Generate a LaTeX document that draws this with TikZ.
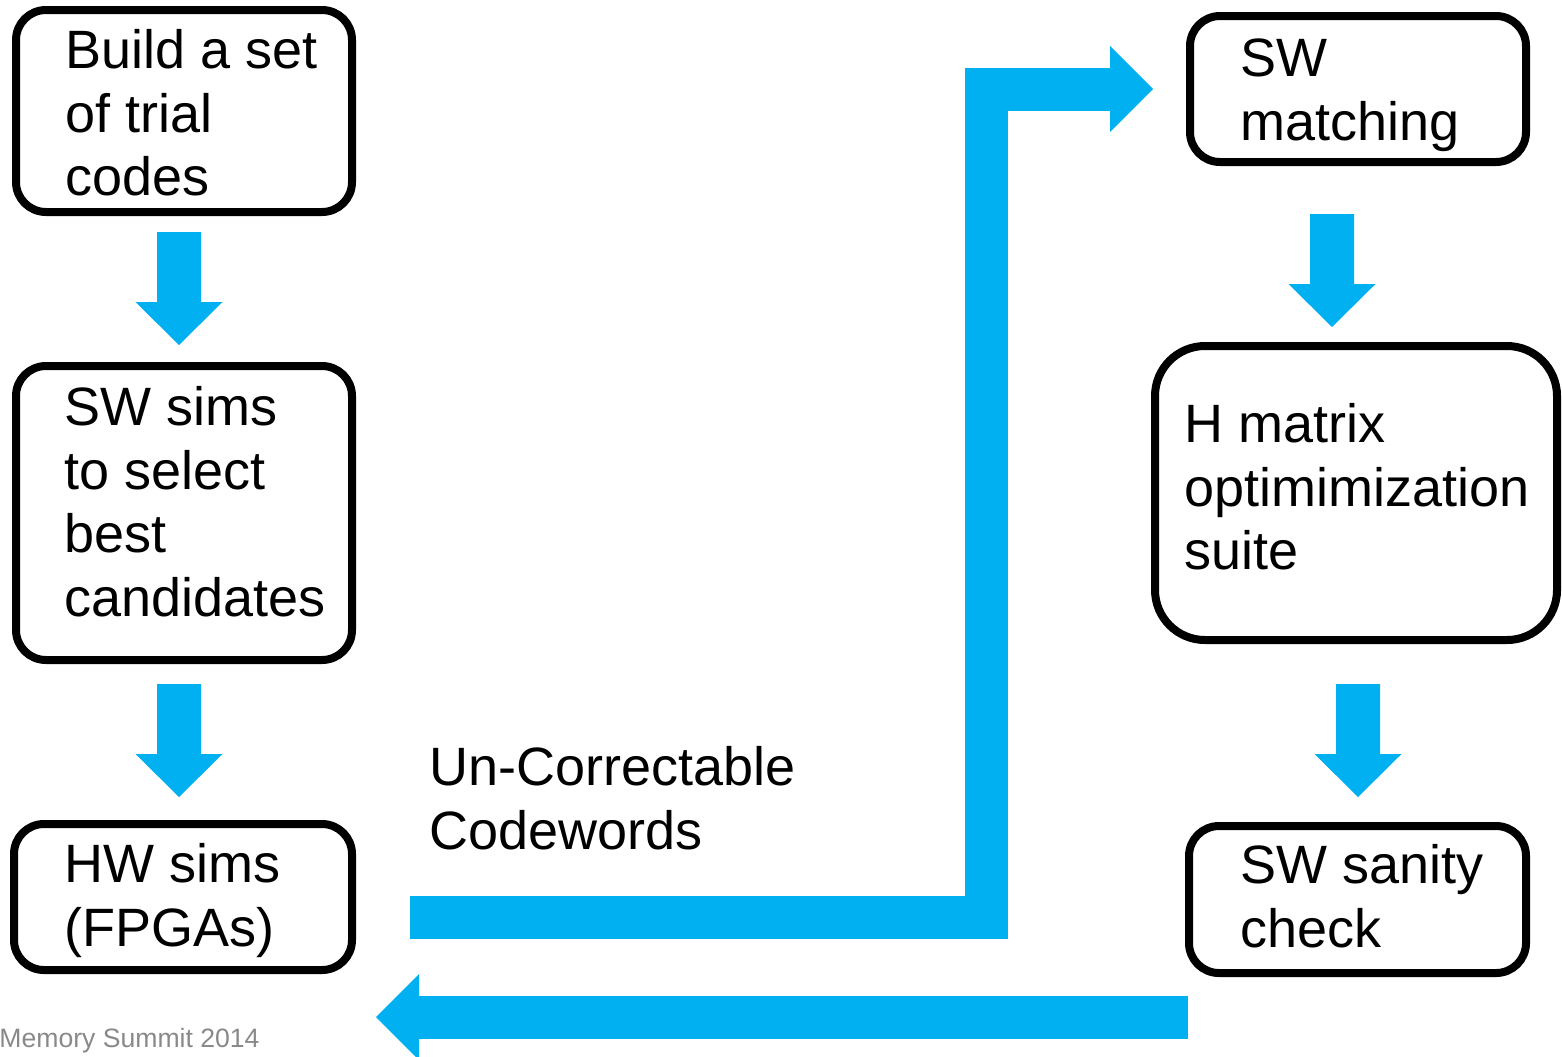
\documentclass[tikz,border=0pt]{standalone}
\usepackage{fontspec}
\setmainfont{Liberation Sans}
\usetikzlibrary{calc}
\definecolor{flowblue}{RGB}{0,176,240}
\definecolor{footgray}{RGB}{137,137,137}
% fixed-height strut so the first line of every text block sits at a known baseline
\newcommand\firststrut{\rule{0pt}{22.4pt}}
% block arrow pointing down, from #1 (shaft start) to #2 (tip)
\newcommand\downflow[2]{%
  \fill[flowblue] ($(#1)+(-22,0)$) -- ($(#1)+(22,0)$) -- ($(#2)+(22,-43)$)
    -- ($(#2)+(43.5,-43)$) -- (#2) -- ($(#2)+(-43.5,-43)$)
    -- ($(#2)+(-22,-43)$) -- cycle;}

\begin{document}
\begin{tikzpicture}[x=0.5pt,y=-0.5pt,
  stepbox/.style={draw=black, line width=4pt, rounded corners=15pt,
    inner sep=0pt, outer sep=0pt, fill=white},
  boxtext/.style={anchor=north west, inner sep=0pt, align=left,
    font=\fontsize{27}{31.8}\selectfont},
  bar/.style={draw=flowblue, line width=21.5pt, line join=miter, line cap=butt}]

\useasboundingbox (0,0) rectangle (1562,1056);

% process boxes
\node[stepbox, minimum width=168pt, minimum height=101pt] (b1) at (184,111) {};
\node[stepbox, minimum width=168pt, minimum height=147pt] (b2) at (184,513) {};
\node[stepbox, minimum width=169pt, minimum height=73pt] (b3) at (183,897) {};
\node[stepbox, minimum width=168pt, minimum height=73pt] (b4) at (1358,89) {};
\node[stepbox, minimum width=201pt, minimum height=147pt, rounded corners=25pt] (b5) at (1356,493) {};
\node[stepbox, minimum width=168.5pt, minimum height=73.5pt] (b6) at (1357.5,899.5) {};

% box texts
\node[boxtext] (t1) at (65,23.2) {\firststrut Build a set\\of trial\\codes};
\node[boxtext] (t2) at (64,380.2) {\firststrut SW sims\\to select\\best\\candidates};
\node[boxtext] (t3) at (64,837.2) {\firststrut HW sims\\(FPGAs)};
\node[boxtext] (t4) at (1240,31.2) {\firststrut SW\\matching};
\node[boxtext] (t5) at (1184,397.2) {\firststrut H matrix\\optimimization\\suite};
\node[boxtext] (t6) at (1240,838.2) {\firststrut SW sanity\\check};
\node[boxtext] (tu) at (429,740.2) {\firststrut Un-Correctable\\Codewords};

% downward block arrows between boxes
\coordinate (a1s) at ($(b1.south)+(-5,20)$);
\coordinate (a1e) at ($(b2.north)+(-5,-21)$);
\coordinate (a2s) at ($(b2.south)+(-5,24)$);
\coordinate (a2e) at ($(b3.north)+(-4,-27)$);
\coordinate (a3s) at ($(b4.south)+(-26,52)$);
\coordinate (a3e) at ($(b5.north)+(-24,-19)$);
\coordinate (a4s) at ($(b5.south)+(2,44)$);
\coordinate (a4e) at ($(b6.north)+(0.5,-29)$);
\downflow{a1s}{a1e}
\downflow{a2s}{a2e}
\downflow{a3s}{a3e}
\downflow{a4s}{a4e}

% bent arrow from the HW sims box up to SW matching
\coordinate (ua) at ($(b3.east)+(58,20)$);
\coordinate (ub) at ($(b4.west)+(-37,0)$);
\coordinate (uk) at ($(ub)+(-167,0)$);
\coordinate (ubase) at ($(ub)+(-43,0)$);
\draw[bar] (ua) -| (uk) -- ($(ubase)+(1,0)$);
\fill[flowblue] ($(ubase)+(0,-43)$) -- (ub) -- ($(ubase)+(0,43)$) -- cycle;

% return arrow running back along the bottom
\coordinate (ra) at ($(b6.south west)+(-1,44)$);
\coordinate (rt) at ($(b3.south east)+(24,47)$);
\coordinate (rbase) at ($(rt)+(43,0)$);
\draw[bar] (ra) -- ($(rbase)+(-1,0)$);
\fill[flowblue] ($(rbase)+(0,-43)$) -- (rt) -- ($(rbase)+(0,43)$) -- cycle;

% footer
\node[anchor=base west, inner sep=0pt, text=footgray,
  font=\fontsize{13.3}{16}\selectfont] (foot) at (-1,1047) {Memory Summit 2014};
\end{tikzpicture}
\end{document}
